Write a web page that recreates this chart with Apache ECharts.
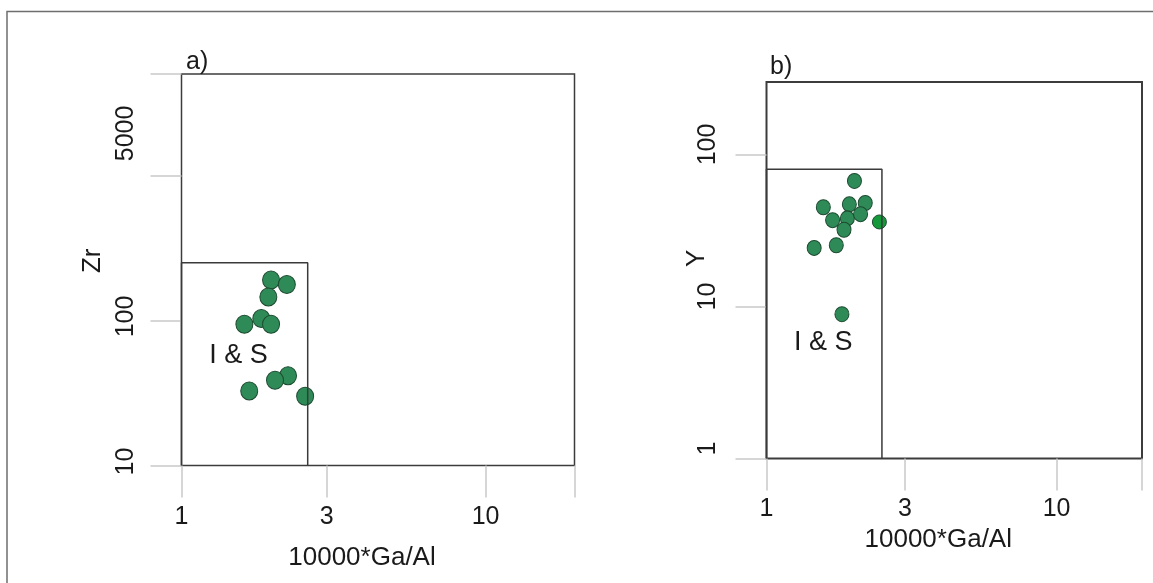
<!DOCTYPE html>
<html><head><meta charset="utf-8">
<script src="https://cdn.jsdelivr.net/npm/echarts@6/dist/echarts.min.js"></script>
<style>html,body{margin:0;padding:0;background:#fff}#c{width:1153px;height:583px}</style>
</head><body><div id="c"></div>
<script>
// ---- data ----
const xTickValsA = [1, 3, 10, 19.6];
const xTickLabelsA = ['1', '3', '10', ''];
const yTickValsA = [10, 100, 1000, 5000];
const yTickLabelsA = ['10', '100', '5000', ''];
const xTickValsB = [1, 3, 10, 19.7];
const xTickLabelsB = ['1', '3', '10', ''];
const yTickValsB = [1, 10, 100];
const yTickLabelsB = ['1', '10', '100'];

const gaAlA = [1.97, 2.22, 1.93, 1.83, 1.61, 1.97, 2.24, 2.03, 1.67, 2.55];
const zrA   = [190, 177, 145, 103, 94, 94, 41.5, 38.7, 32.6, 30];

const gaAlB = [2.01, 1.57, 1.93, 2.19, 1.69, 1.90, 2.11, 1.85, 1.46, 1.74, 1.82];
const yB    = [67, 45, 47, 48, 37, 38, 40.5, 32, 24.3, 25.3, 8.9];
const gaAlB2 = [2.45];
const yB2    = [36];

const fieldA = { gaAl: 2.6, zr: 250 };   // I & S field, panel a
const fieldB = { gaAl: 2.5, y: 80 };     // I & S field, panel b
const fieldLabel = 'I & S';
const fieldLabelA = [1.54, 57];
const fieldLabelB = [1.57, 5.8];

// ---- chart ----
const FONT = 'Liberation Sans, Arial, Helvetica, sans-serif';
const TXT = '#1a1a1a';
function fmt(vals, labels) {
  return function (v) {
    const i = vals.findIndex(t => Math.abs(Math.log10(t) - Math.log10(v)) < 1e-3);
    return i < 0 ? '' : labels[i];
  };
}
const chart = echarts.init(document.getElementById('c'), null, { renderer: 'canvas' });

function xAxisCfg(idx, vals, labels, max, margin, nameGap) {
  return {
    gridIndex: idx, type: 'log', logBase: 10, min: 1, max: max,
    axisLine: { show: false },
    splitLine: { show: false },
    axisTick: { show: true, customValues: vals, length: 32, inside: false,
      lineStyle: { color: '#c9c9c9', width: 1.5 } },
    axisLabel: { customValues: vals, formatter: fmt(vals, labels), margin: margin,
      fontSize: 25, fontFamily: FONT, color: TXT },
    name: '10000*Ga/Al', nameLocation: 'middle', nameGap: nameGap, nameMoveOverlap: false,
    nameTextStyle: { fontSize: 26, fontFamily: FONT, color: TXT, padding: [0, 32, 0, 0] }
  };
}

const option = {
  backgroundColor: '#fff',
  animation: false,
  grid: [
    { left: 181.5, top: 74, width: 393, height: 391.5, show: true,
      borderColor: '#3c3c3c', borderWidth: 1.5, backgroundColor: 'transparent' },
    { left: 766.5, top: 82, width: 375.5, height: 376.5, show: true,
      borderColor: '#3c3c3c', borderWidth: 2, backgroundColor: 'transparent' }
  ],
  xAxis: [
    xAxisCfg(0, xTickValsA, xTickLabelsA, 19.6, 39, 79),
    xAxisCfg(1, xTickValsB, xTickLabelsB, 19.7, 38, 68)
  ],
  yAxis: [
    { gridIndex: 0, type: 'log', logBase: 10, min: 10, max: 5000,
      axisLine: { show: false }, splitLine: { show: false },
      axisTick: { show: true, customValues: yTickValsA, length: 31,
        lineStyle: { color: '#c9c9c9', width: 1.5 } },
      axisLabel: { customValues: yTickValsA, rotate: 90, margin: 43,
        formatter: function (v) {
          const s = fmt(yTickValsA, yTickLabelsA)(v);
          if (s === '5000') return '{up|5000}';
          return s === '' ? '' : '{n|' + s + '}';
        },
        fontSize: 25, fontFamily: FONT, color: TXT,
        rich: { up: { fontSize: 25, fontFamily: FONT, color: TXT, padding: [0, 0, 0, 84] },
                n: { fontSize: 25, fontFamily: FONT, color: TXT, padding: [0, 0, 0, 8] } } },
      name: 'Zr', nameLocation: 'middle', nameGap: 76, nameRotate: 90, nameMoveOverlap: false,
      nameTextStyle: { fontSize: 26, fontFamily: FONT, color: TXT, padding: [0, 0, 0, 18] } },
    { gridIndex: 1, type: 'log', logBase: 10, min: 1, max: 300,
      axisLine: { show: false }, splitLine: { show: false },
      axisTick: { show: true, customValues: yTickValsB, length: 31,
        lineStyle: { color: '#c9c9c9', width: 1.5 } },
      axisLabel: { customValues: yTickValsB, rotate: 90, margin: 46,
        formatter: function (v) {
          const s = fmt(yTickValsB, yTickLabelsB)(v);
          return s === '' ? '' : '{s|' + s + '}';
        },
        fontSize: 25, fontFamily: FONT, color: TXT,
        rich: { s: { fontSize: 25, fontFamily: FONT, color: TXT, padding: [0, 0, 0, 20] } } },
      name: 'Y', nameLocation: 'middle', nameGap: 57, nameRotate: 90, nameMoveOverlap: false,
      nameTextStyle: { fontSize: 26, fontFamily: FONT, color: TXT, padding: [0, 0, 0, 24] } }
  ],
  series: [
    { type: 'line', xAxisIndex: 0, yAxisIndex: 0, clip: false, symbol: 'none', silent: true,
      lineStyle: { color: '#3a3a3a', width: 1.5 },
      data: [[1, 10], [1, fieldA.zr], [fieldA.gaAl, fieldA.zr], [fieldA.gaAl, 10]] },
    { type: 'line', xAxisIndex: 1, yAxisIndex: 1, clip: false, symbol: 'none', silent: true,
      lineStyle: { color: '#3a3a3a', width: 1.5 },
      data: [[1, 1], [1, fieldB.y], [fieldB.gaAl, fieldB.y], [fieldB.gaAl, 1]] },
    { type: 'scatter', xAxisIndex: 0, yAxisIndex: 0, symbolSize: 0, silent: true,
      itemStyle: { opacity: 1 },
      label: { show: true, position: 'inside', formatter: fieldLabel, opacity: 1,
        fontSize: 27, fontFamily: FONT, color: TXT },
      data: [fieldLabelA] },
    { type: 'scatter', xAxisIndex: 1, yAxisIndex: 1, symbolSize: 0, silent: true,
      itemStyle: { opacity: 1 },
      label: { show: true, position: 'inside', formatter: fieldLabel, opacity: 1,
        fontSize: 27, fontFamily: FONT, color: TXT },
      data: [fieldLabelB] },
    { type: 'scatter', xAxisIndex: 0, yAxisIndex: 0, symbol: 'circle', symbolSize: [17, 18],
      itemStyle: { color: '#2e8b57', borderColor: '#1c4a30', borderWidth: 1, opacity: 1 },
      data: gaAlA.map((x, i) => [x, zrA[i]]) },
    { type: 'scatter', xAxisIndex: 1, yAxisIndex: 1, symbol: 'circle', symbolSize: [14, 15],
      itemStyle: { color: '#2e8b57', borderColor: '#1c4a30', borderWidth: 1, opacity: 1 },
      data: gaAlB.map((x, i) => [x, yB[i]]) },
    { type: 'scatter', xAxisIndex: 1, yAxisIndex: 1, symbol: 'circle', symbolSize: 14,
      itemStyle: { color: '#13993a', borderColor: '#1c4a30', borderWidth: 1, opacity: 1 },
      data: gaAlB2.map((x, i) => [x, yB2[i]]) }
  ],
  graphic: [
    { type: 'polyline', silent: true,
      shape: { points: [[7, 583], [7, 11.5], [1153, 11.5]] },
      style: { stroke: '#6e6e6e', lineWidth: 1.5, fill: null } },
    { type: 'text', left: 186, top: 50, silent: true,
      style: { text: 'a)', font: '25px ' + FONT, fill: TXT } },
    { type: 'text', left: 770, top: 55, silent: true,
      style: { text: 'b)', font: '25px ' + FONT, fill: TXT } }
  ]
};
chart.setOption(option);
</script>
</body></html>
